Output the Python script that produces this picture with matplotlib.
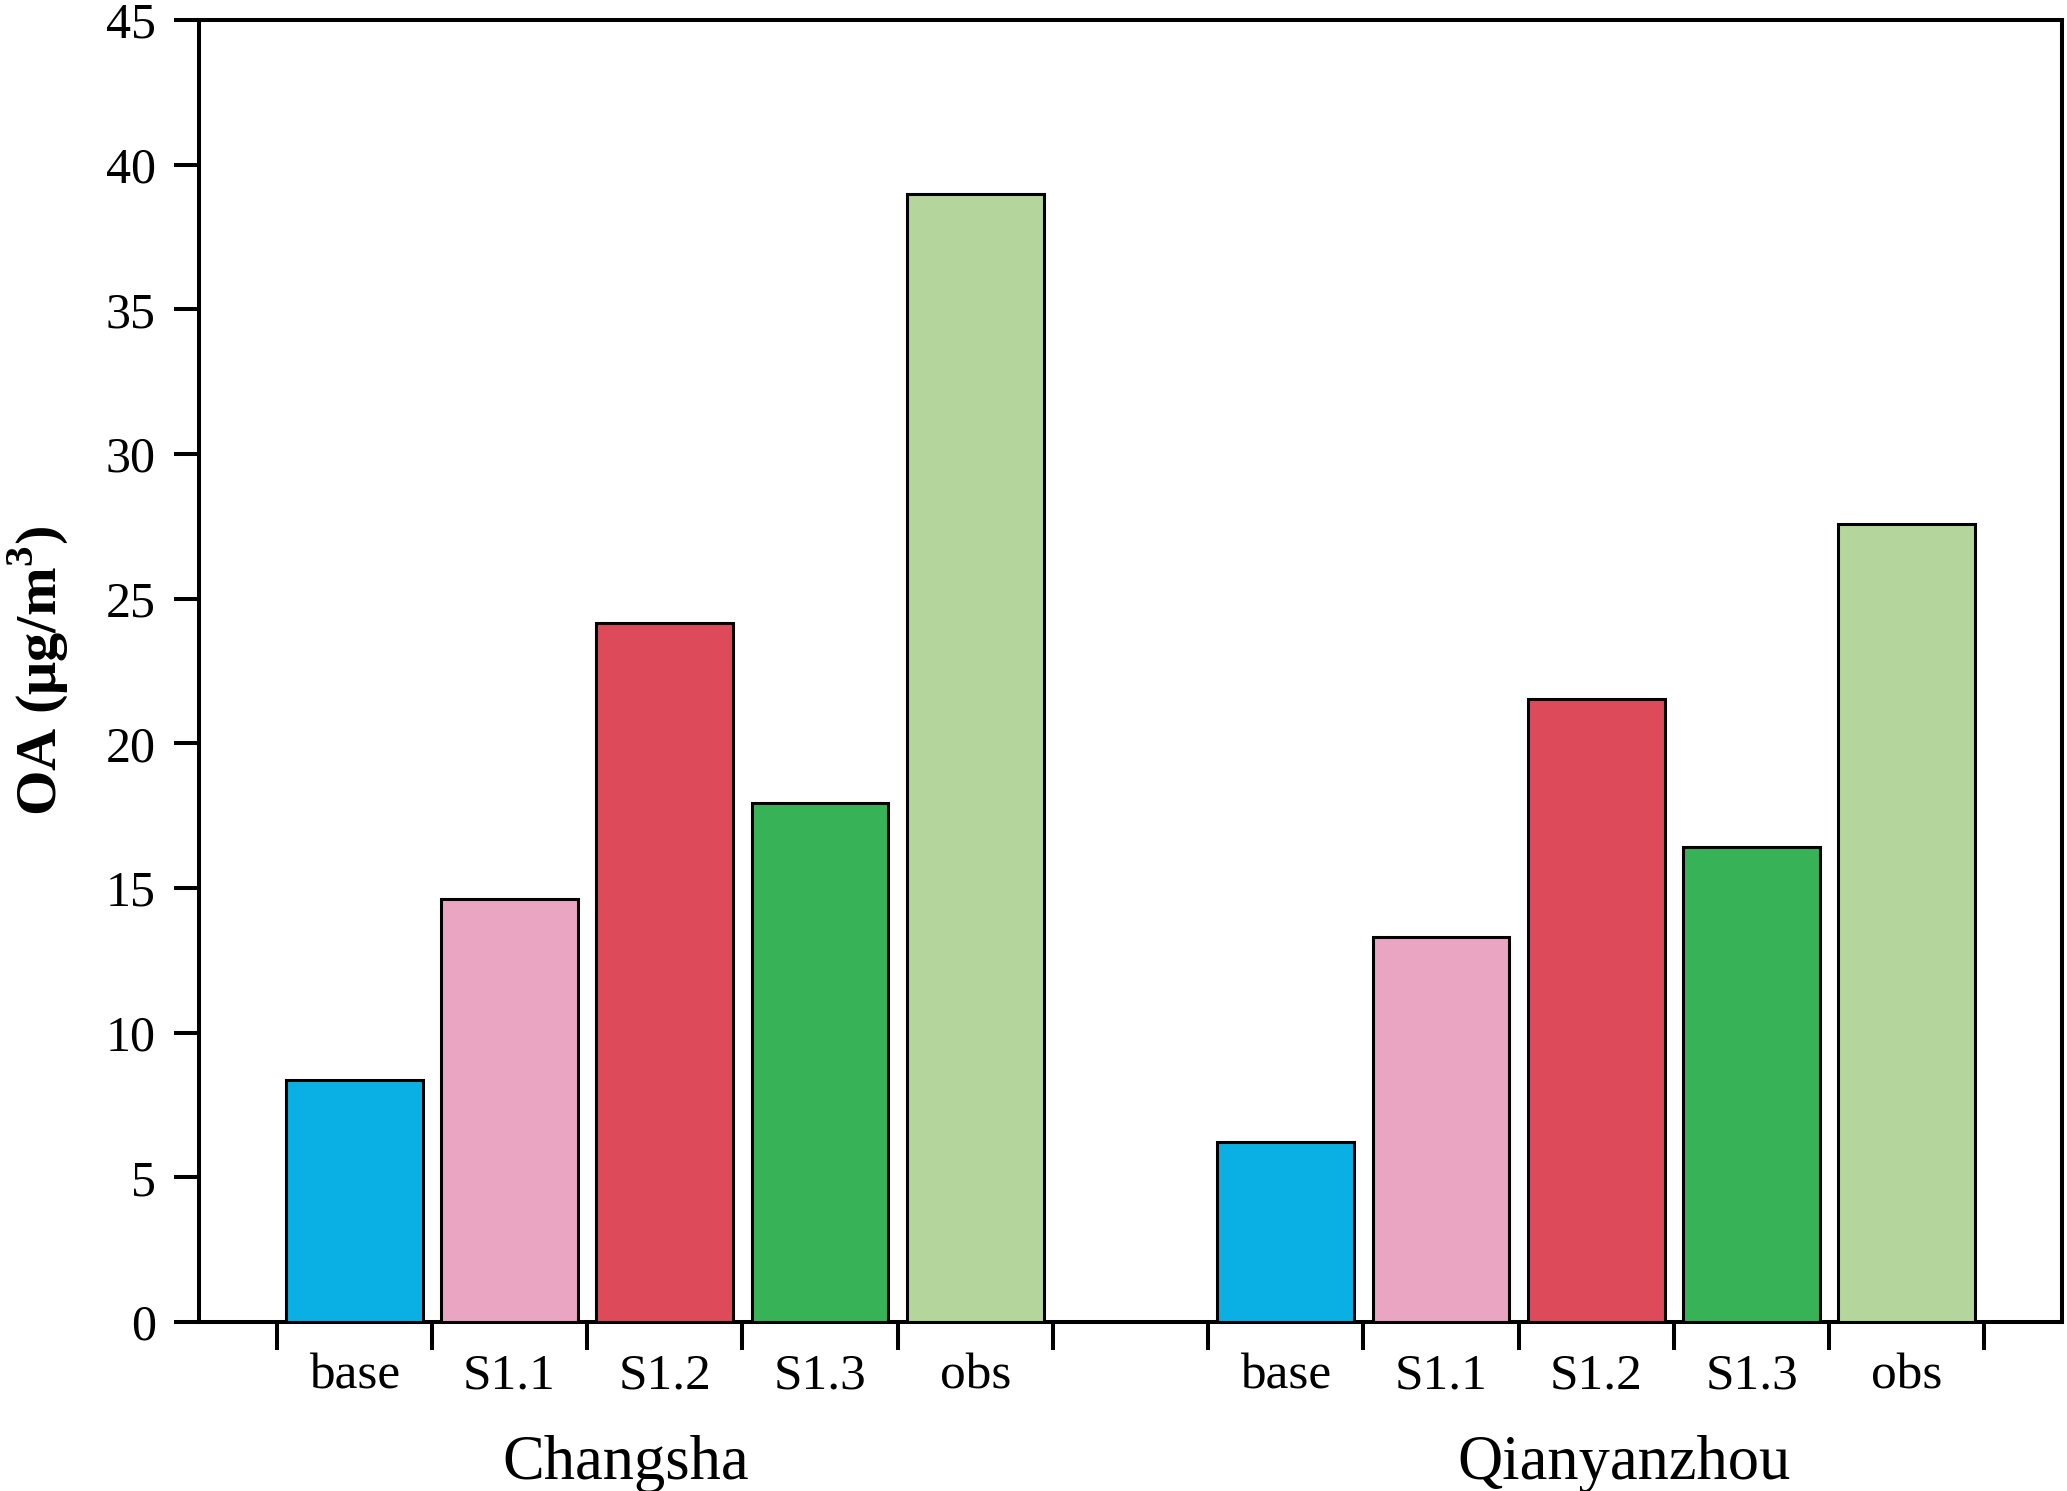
import matplotlib
matplotlib.use("Agg")
import matplotlib.pyplot as plt
import matplotlib.transforms as mtransforms

plt.rcParams['font.family'] = ['Liberation Serif', 'DejaVu Serif']
plt.rcParams['mathtext.fontset'] = 'custom'
plt.rcParams['mathtext.rm'] = 'Liberation Serif'
plt.rcParams['mathtext.bf'] = 'Liberation Serif:bold'

scenarios = ['base', 'S1.1', 'S1.2', 'S1.3', 'obs']
sites = ['Changsha', 'Qianyanzhou']
changsha = [8.37, 14.62, 24.15, 17.95, 39.0]
qianyanzhou = [6.24, 13.32, 21.52, 16.41, 27.58]
colors = ['#0AAFE3', '#EAA5C2', '#DD4A5A', '#37B257', '#B4D59C']
yticks = [0, 5, 10, 15, 20, 25, 30, 35, 40, 45]

fig = plt.figure(figsize=(20.67, 14.91), dpi=100)
ax = fig.add_axes([0.0963, 0.1133, 0.9976 - 0.0963, 0.9866 - 0.1133])

n = len(scenarios)
groups = [changsha, qianyanzhou]
centers = []
labels = []
for g, vals in enumerate(groups):
    xs = [g * (n + 1) + i for i in range(n)]
    ax.bar(xs, vals, width=0.88, color=colors, edgecolor='black', linewidth=2.2, zorder=3)
    centers += xs
    labels += scenarios

ax.set_xlim(-1, 2 * (n + 1) - 1)
ax.set_ylim(0, 45)
ax.set_yticks(yticks)

bounds = []
for g in range(2):
    bounds += [g * (n + 1) + i - 0.5 for i in range(n + 1)]
ax.set_xticks(bounds)
ax.set_xticklabels([''] * len(bounds))
ax.set_xticks(centers, minor=True)
ax.set_xticklabels(labels, minor=True)

ax.tick_params(axis='x', which='major', direction='out', length=20, width=2.9)
ax.tick_params(axis='x', which='minor', length=0, pad=22, labelsize=37)
ax.tick_params(axis='y', which='major', direction='out', length=18, width=2.9, pad=13, labelsize=36)

for sp in ax.spines.values():
    sp.set_linewidth(2.9)

trans = mtransforms.blended_transform_factory(ax.transData, ax.transAxes)
group_x = [1.75, 8.18]
for gx, name in zip(group_x, sites):
    ax.text(gx, -0.1206, name, transform=trans, ha='center', va='baseline', fontsize=45)

ax.set_ylabel(r'OA (μg/m$^\mathbf{3}$)', fontsize=42, fontweight='bold', labelpad=26)

fig.savefig('out.png', dpi=100)
